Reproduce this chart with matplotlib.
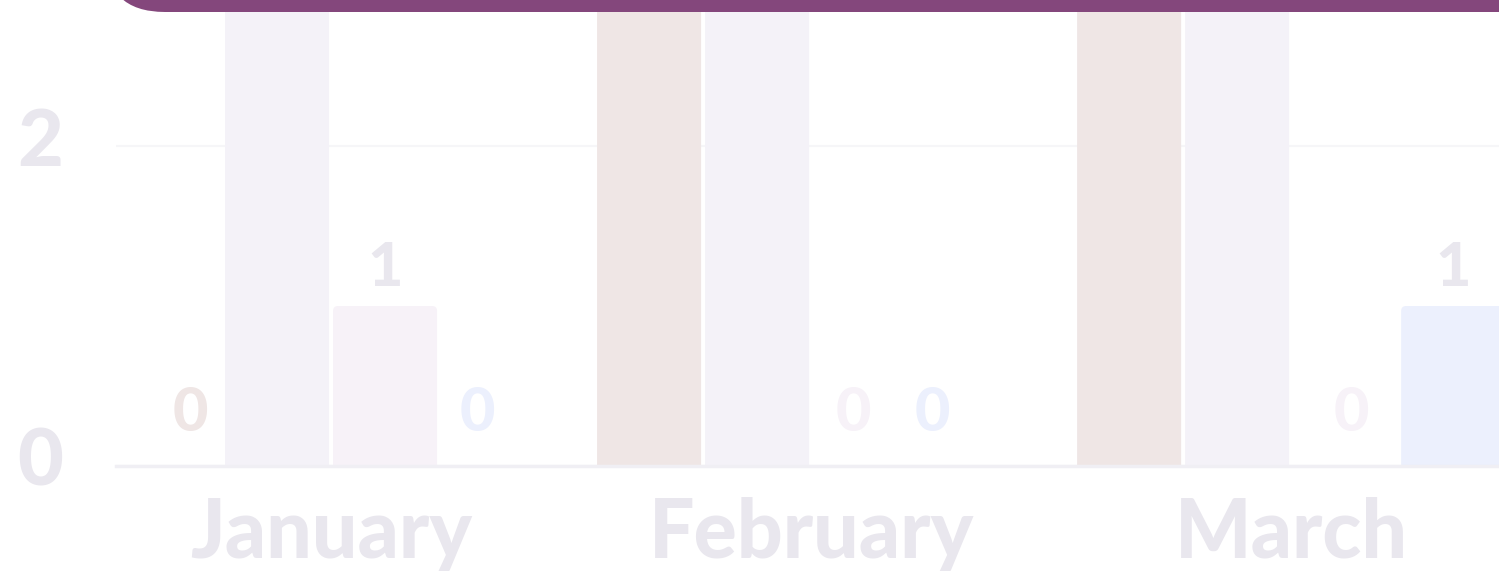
import matplotlib
matplotlib.use("Agg")
import matplotlib.pyplot as plt
from matplotlib.patches import FancyBboxPatch
from matplotlib.transforms import ScaledTranslation
import numpy as np

months = ["January", "February", "March"]
series_a = [0, 3, 3]
series_b = [3, 3, 3]
series_c = [1, 0, 0]
series_d = [0, 0, 1]
y_ticks = [0, 2]

series = [series_a, series_b, series_c, series_d]
bar_colors = ["#efe6e5", "#f4f2f8", "#f7f2f8", "#ecf0fd"]
text_color = "#e9e7ee"
banner_color = "#84477c"

# sideways nudges for the zero labels so they do not crowd each other
label_nudge = {(0, 0): 0.044, (3, 0): -0.033, (2, 1): -0.025,
               (3, 1): -0.085, (2, 2): 0.0125}

plt.rcParams["font.family"] = ["Lato", "DejaVu Sans"]

fig = plt.figure(figsize=(14.99, 5.71), dpi=100)
ax = fig.add_axes([116 / 1499, 105 / 571, 1 - 116 / 1499, 466 / 571])

x = np.arange(len(months))
width = 0.2167
step = 0.225
offsets = (np.arange(len(series)) - 1.5) * step
radius = 0.0104
y_max = 466 / 160

for k, (vals, col) in enumerate(zip(series, bar_colors)):
    for i, v in enumerate(vals):
        cx = x[i] + offsets[k]
        if v > 0:
            patch = FancyBboxPatch((cx - width / 2, -0.2), width, v + 0.2,
                                   boxstyle=f"round,pad=0,rounding_size={radius}",
                                   mutation_aspect=3.0, facecolor=col,
                                   edgecolor="none", zorder=2)
            ax.add_patch(patch)
            # value labels of bars taller than the view are not drawn
            if v + 0.06 < y_max:
                ax.text(cx, v + 0.06, str(v), ha="center", va="bottom",
                        fontsize=44, fontweight="black", color=text_color,
                        zorder=3)
        else:
            ax.text(cx + label_nudge.get((k, i), 0), 0.155, str(v),
                    ha="center", va="bottom", fontsize=44,
                    fontweight="black", color=col, zorder=3)

ax.set_xlim(-0.448, 2.433)
ax.set_ylim(0, y_max)

ax.set_yticks(y_ticks)
ax.set_yticklabels([str(t) for t in y_ticks], fontsize=57, fontweight="black",
                   color=text_color)
ax.tick_params(axis="y", length=0, pad=38)
lift = ScaledTranslation(0, 9 / 100, fig.dpi_scale_trans)
for lab in ax.get_yticklabels():
    lab.set_transform(lab.get_transform() + lift)
ax.set_xticks(x)
ax.set_xticklabels(months, fontsize=58, fontweight="black", color=text_color)
ax.tick_params(axis="x", length=0, pad=22)

ax.grid(axis="y", color="#f6f6f8", linewidth=1.5, zorder=0)
ax.set_axisbelow(True)
for side in ["top", "right", "left"]:
    ax.spines[side].set_visible(False)
ax.spines["bottom"].set_color("#f0eff4")
ax.spines["bottom"].set_linewidth(2.5)
ax.spines["bottom"].set_zorder(4)

# title banner, mostly above the visible area
banner = FancyBboxPatch((105 / 1499, 1 - 12 / 571), 1.2, 0.5,
                        boxstyle="round,pad=0,rounding_size=0.04",
                        mutation_aspect=1499 / 571,
                        transform=fig.transFigure, facecolor=banner_color,
                        edgecolor="none", zorder=10, clip_on=False)
fig.patches.append(banner)

fig.savefig("out.png", dpi=100, facecolor="white")
